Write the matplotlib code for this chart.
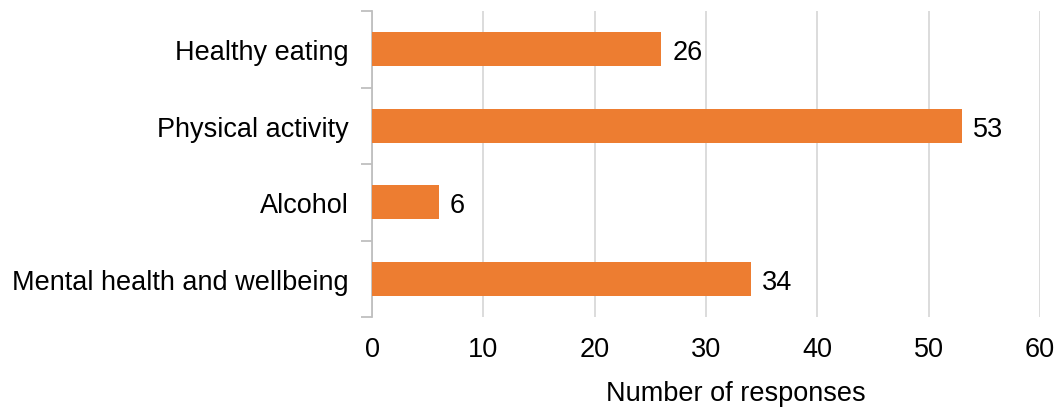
import matplotlib
matplotlib.use("Agg")
import matplotlib.pyplot as plt

categories = ["Healthy eating", "Physical activity", "Alcohol", "Mental health and wellbeing"]
values = [26, 53, 6, 34]
xticks = [0, 10, 20, 30, 40, 50, 60]

plt.rcParams['font.family'] = ['Liberation Sans', 'DejaVu Sans']
FS = 19.5

fig = plt.figure(figsize=(10.59, 4.10), dpi=100)
ax = fig.add_axes([372/1059, 1-318/410, (1040-372)/1059, (318-12)/410])

n = len(categories)
ypos = list(range(n))
ax.barh(ypos, values, height=0.45, color="#ED7D31", zorder=3)
ax.set_ylim(n-0.5, -0.5)
ax.set_xlim(0, 60)
ax.set_xticks(xticks)
ax.set_xticklabels([str(t) for t in xticks], fontsize=FS)
ax.tick_params(axis='x', length=0, pad=14)
ax.xaxis.grid(True, color="#D9D9D9", linewidth=1.3, zorder=0)
ax.set_axisbelow(True)

# category boundaries as ticks on left spine
ax.set_yticks([i-0.5 for i in range(n+1)], minor=False)
ax.set_yticklabels([])
ax.set_yticks(ypos, minor=True)
ax.set_yticklabels(categories, minor=True, fontsize=FS)
ax.tick_params(axis='y', which='major', length=8, color="#BFBFBF", width=1.3)
ax.tick_params(axis='y', which='minor', length=0, pad=17)

for s in ["top", "right", "bottom"]:
    ax.spines[s].set_visible(False)
ax.spines["left"].set_color("#BFBFBF")
ax.spines["left"].set_linewidth(1.3)

for y, v in zip(ypos, values):
    ax.annotate(str(v), xy=(v, y), xytext=(8, -2), textcoords="offset points",
                va="center", ha="left", fontsize=FS, zorder=4)

ax.set_xlabel("Number of responses", fontsize=FS)
ax.xaxis.set_label_coords(0.545, -0.205)

fig.savefig("out.png", dpi=100)
